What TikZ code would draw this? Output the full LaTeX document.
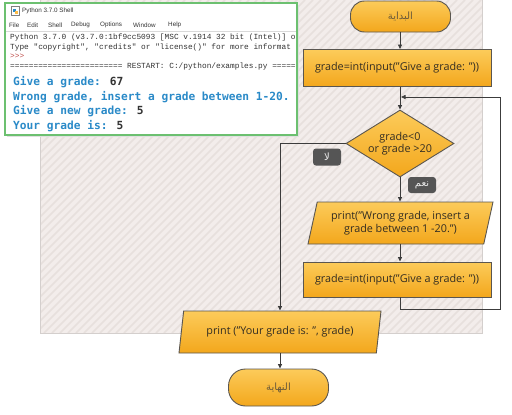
\documentclass[tikz,border=0pt]{standalone}
\usepackage{fontspec}
\setmainfont{Open Sans}
\newfontfamily\arabicfont[Script=Arabic]{DejaVu Sans}
\newfontfamily\shellmono{DejaVu Sans Mono}
\newfontfamily\smallmono{Liberation Mono}
\newfontfamily\uisans{Liberation Sans}
\TeXXeTstate=1
\usetikzlibrary{shapes.geometric,arrows.meta}
\definecolor{orL}{HTML}{FCCB5A}
\definecolor{orD}{HTML}{F3A71C}
\definecolor{edgegray}{HTML}{5A5650}
\definecolor{txt}{HTML}{332D22}
\definecolor{arrtxt}{HTML}{6A5A3A}
\definecolor{arrgray}{HTML}{3C3C3C}
\definecolor{lblgray}{HTML}{555555}
\definecolor{bgpink}{HTML}{F3EDEB}
\definecolor{hatchc}{HTML}{E7E0DD}
\definecolor{bgedge}{HTML}{D4CFCD}
\definecolor{shellgreen}{HTML}{6CC070}
\definecolor{pyblue}{HTML}{2A8AC8}
\definecolor{pydark}{HTML}{333333}
\definecolor{pyred}{HTML}{C0504D}
\begin{document}
\begin{tikzpicture}[x=1pt,y=-1pt,
  flowbox/.style={draw=edgegray, line width=0.9pt, top color=orL, bottom color=orD,
    font=\fontsize{10.8}{12.6}\selectfont, text=txt, align=center, inner sep=1pt},
  procbox/.style={flowbox, rectangle, minimum width=188pt, minimum height=37pt},
  termbox/.style={flowbox, rectangle, minimum width=100pt, font=\arabicfont\fontsize{10}{12}\selectfont, text=arrtxt},
  iobox/.style={flowbox, trapezium, trapezium left angle=70, trapezium right angle=110,
    trapezium stretches body, minimum height=42pt},
  decbox/.style={flowbox, diamond, aspect=1.6, inner sep=0pt, minimum width=108pt, minimum height=67pt},
  lblbox/.style={fill=lblgray, rounded corners=3pt, text=white!92!black,
    font=\arabicfont\fontsize{10}{11}\selectfont, minimum width=28pt, minimum height=17pt, inner sep=1pt},
  conn/.style={draw=arrgray, line width=0.8pt, -{Triangle[length=4.5pt,width=4pt]}},
  hatch/.style={draw=hatchc, line width=1.6pt},
  shtext/.style={anchor=west, inner sep=0pt, font=\shellmono\bfseries\fontsize{11.2}{13}\selectfont, text=pyblue},
  smtext/.style={anchor=west, inner sep=0pt, font=\smallmono\fontsize{7.8}{9}\selectfont, text=pydark},
  menutext/.style={anchor=west, inner sep=0pt, font=\uisans\fontsize{6.3}{7}\selectfont, text=pydark}
]
\useasboundingbox (0,0) rectangle (512,415);
% background hatched region
\fill[bgpink] (40,0) rectangle (482,333);
\begin{scope}
  \clip (40,0) rectangle (482,333);
  \foreach \k in {-340,-332,...,480} \draw[hatch] (\k,333) -- (\k+333,0);
\end{scope}
\draw[bgedge, line width=1pt] (40,0) -- (40,333) -- (482,333) -- (482,0);

% flowchart nodes
\node[termbox, minimum height=31pt, rounded corners=14pt] (start) at (400.5,16.5) {\beginR البداية\endR};
\node[procbox] (p1) at (397,68) {grade=int(input("Give a grade: "))};
\node[decbox] (d) at (400,143.5) {grade<0\\or grade >20};
\node[iobox, minimum width=185pt] (io1) at (400.5,223) {print("Wrong grade, insert a\\grade between 1 -20.")};
\node[procbox, minimum height=35pt] (p2) at (397,279.5) {grade=int(input("Give a grade: "))};
\node[iobox, minimum width=202pt] (io2) at (280,332) {print ("Your grade is: ", grade)};
\node[termbox, minimum height=37pt, rounded corners=17pt] (end) at (278.5,387.5) {\beginR النهاية\endR};

% labels
\node[lblbox] (no) at (327,157) {\beginR لا\endR};
\node[lblbox, minimum height=16pt] (yes) at (422,185) {\beginR نعم\endR};

% connectors
\coordinate (loopin) at (400,97);
\coordinate (loopA) at (400,309);
\coordinate (loopB) at (500,309);
\coordinate (loopC) at (500,97);
\coordinate (noA) at (280,143.5);
\draw[conn] (start.south -| d.north) -- (p1.north -| d.north);
\draw[conn] (p1.south -| d.north) -- (d.north);
\draw[conn] (d.south) -- (d.south |- io1.north);
\draw[conn] (d.south |- io1.south) -- (d.south |- p2.north);
\draw[conn] (d.south |- p2.south) -- (loopA) -- (loopB) -- (loopC) -- ([xshift=1pt]loopin);
\draw[conn] (d.west) -- (noA) -- (noA |- io2.north);
\draw[conn] (io2.south -| noA) -- (end.north -| noA);

% Python shell window
\fill[black!12] (6.5,4.5) rectangle (298.5,137);
\fill[white] (5,3) rectangle (297,135);
\begin{scope}
  \clip (6,4) rectangle (296,134);
  % icon
  \fill[white] (11,6) rectangle (19,15);
  \draw[black!50, line width=0.4pt] (11,6) rectangle (19,15);
  \fill[pyblue] (12.5,9) rectangle (15.5,12);
  \fill[orL!80!orange] (14.5,11) rectangle (17.5,14);
  \node[menutext] (title) at (22,10.5) {Python 3.7.0 Shell};
  \node[menutext] (m1) at (9,25) {File};
  \node[menutext] (m2) at (27,25) {Edit};
  \node[menutext] (m3) at (48,25) {Shell};
  \node[menutext] (m4) at (71,25) {Debug};
  \node[menutext] (m5) at (100,25) {Options};
  \node[menutext] (m6) at (133,25) {Window};
  \node[menutext] (m7) at (168,25) {Help};
  \draw[black!15, line width=0.5pt] (6,31) -- (296,31);
  \node[smtext] (h1) at (10,37) {Python 3.7.0 (v3.7.0:1bf9cc5093 [MSC v.1914 32 bit (Intel)] o};
  \node[smtext] (h2) at (10,47) {Type "copyright", "credits" or "license()" for more informat};
  \node[smtext, text=pyred] (h3) at (10,56.5) {>{}>{}>};
  \node[smtext] (h4) at (10,66) {======================== RESTART: C:/python/examples.py ======};
  \node[shtext] (s1) at (13,82) {Give a grade: \textcolor{pydark}{67}};
  \node[shtext] (s2) at (13,97) {Wrong grade, insert a grade between 1-20.};
  \node[shtext] (s3) at (13,111.5) {Give a new grade: \textcolor{pydark}{5}};
  \node[shtext] (s4) at (13,126) {Your grade is: \textcolor{pydark}{5}};
\end{scope}
\draw[shellgreen, line width=1.3pt] (5,3) rectangle (297,135);
\end{tikzpicture}
\end{document}
